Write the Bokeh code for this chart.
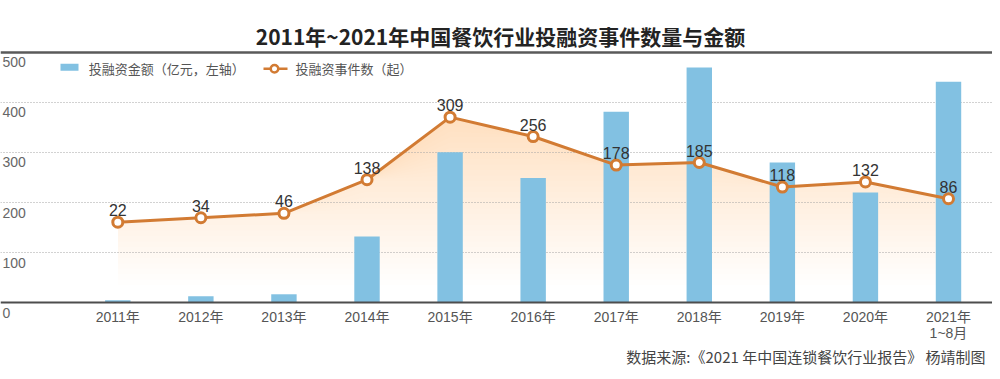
import numpy as np
from bokeh.plotting import figure
from bokeh.models import Range1d
from bokeh.core.properties import value
from bokeh.embed import file_html
from bokeh.resources import INLINE

# ---------------- data ----------------
title_text = "2011年~2021年中国餐饮行业投融资事件数量与金额"
years = ["2011年", "2012年", "2013年", "2014年", "2015年", "2016年",
         "2017年", "2018年", "2019年", "2020年", "2021年\n1~8月"]
amount = [5, 13, 17, 132, 300, 249, 381, 469, 280, 220, 441]   # 亿元 (left axis)
events = [22, 34, 46, 138, 309, 256, 178, 185, 118, 132, 86]   # 起
y_ticks = [0, 100, 200, 300, 400, 500]
y_tick_labels = ["0", "100", "200", "300", "400", "500"]
legend_labels = ["投融资金额（亿元，左轴）", "投融资事件数（起）"]
source_note = "数据来源:《2021 年中国连锁餐饮行业报告》 杨靖制图"

# ---------------- geometry ----------------
W, H = 992, 371
X_FIRST, X_STEP = 117.3, 83.07
Y_ZERO, PX_PER_AMT = 302.3, 0.5015
CNT_ZERO, PX_PER_CNT = 229.7, 0.36585

x_start = -X_FIRST / X_STEP
x_end = (W - X_FIRST) / X_STEP
y_start = -(H - Y_ZERO) / PX_PER_AMT
y_end = Y_ZERO / PX_PER_AMT
c_start = -(H - CNT_ZERO) / PX_PER_CNT
c_end = CNT_ZERO / PX_PER_CNT


def xd(px):
    return x_start + px / X_STEP


def yd(py):
    return y_end - py / PX_PER_AMT


BLUE = "#82c1e2"
ORANGE = "#d27b33"
CJK = value("Noto Sans CJK SC")
MIX = value("'Liberation Sans', 'Noto Sans CJK SC'")
NUM = value("Liberation Sans")

idx = np.arange(len(years))
ev = np.array(events, dtype=float)

p = figure(width=W, height=H, x_range=Range1d(x_start, x_end),
           y_range=Range1d(y_start, y_end), output_backend="svg",
           toolbar_location=None, min_border=0,
           x_axis_type=None, y_axis_type=None)
p.extra_y_ranges = {"cnt": Range1d(c_start, c_end)}
p.outline_line_color = None
p.background_fill_color = "white"
p.border_fill_color = "white"

# gradient area under the count line (stacked translucent bands)
levels = np.arange(-150, 301, 15)
for h in levels:
    p.varea(x=idx, y1=np.minimum(h, ev), y2=ev, y_range_name="cnt",
            fill_color="#f6b67a", fill_alpha=0.0174)

# gridlines
p.hspan(y=y_ticks[1:-1], line_color="#a5a5a5", line_width=1, line_dash="1 2")

# bars
p.vbar(x=idx, top=amount, width=0.306, fill_color=BLUE, line_color=None)

# top rule and baseline
p.hspan(y=[y_ticks[-1]], line_color="#5a5a5a", line_width=2.5)
p.hspan(y=[y_ticks[0]], line_color="#4d4d4d", line_width=2)

# count line
p.line(x=idx, y=events, y_range_name="cnt", line_color=ORANGE, line_width=3)
p.scatter(x=idx, y=events, y_range_name="cnt", size=10, fill_color="white",
          line_color=ORANGE, line_width=3)
p.text(x=idx, y=events, y_range_name="cnt", text=[str(v) for v in events],
       y_offset=-12, text_align="center", text_baseline="alphabetic",
       text_font=NUM, text_font_size="16px", text_color="#333333")

# y tick labels
p.text(x=[x_start] * len(y_ticks), y=y_ticks, text=y_tick_labels, x_offset=2,
       y_offset=10, text_align="left", text_baseline="middle",
       text_font=NUM, text_font_size="14px", text_color="#666666")

# x tick labels
p.text(x=idx, y=[0] * len(years), text=years, y_offset=6,
       text_align="center", text_baseline="top", text_line_height=1.0,
       text_font=MIX, text_font_size="14px", text_color="#555555")

# title
p.text(x=[xd(500)], y=[yd(35)], text=[title_text], text_align="center",
       text_baseline="middle", text_font=CJK, text_font_style="bold",
       text_font_size="21px", text_color="#232323")

# legend
p.rect(x=[xd(69)], y=[yd(66.7)], width=18, height=7, width_units="screen",
       height_units="screen", fill_color=BLUE, line_color=None)
p.segment(x0=[xd(263)], x1=[xd(287)], y0=[yd(68.3)], y1=[yd(68.3)],
          line_color=ORANGE, line_width=2.5)
p.scatter(x=[xd(274)], y=[yd(68.3)], size=7.5, fill_color="white",
          line_color=ORANGE, line_width=2.5)
p.text(x=[xd(88.3), xd(295)], y=[yd(68.3)] * 2, text=legend_labels,
       text_align="left", text_baseline="middle", text_font=CJK,
       text_font_size="13px", text_color="#555555")

# source note
p.text(x=[xd(985)], y=[yd(355.5)], text=[source_note], text_align="right",
       text_baseline="middle", text_font=CJK, text_font_size="15px",
       text_color="#444444")

open("out.html", "w").write(file_html(p, INLINE))
